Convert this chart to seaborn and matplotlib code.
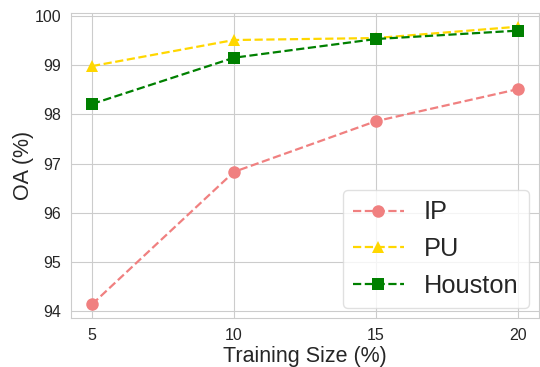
import matplotlib
matplotlib.use('Agg')
import matplotlib.pyplot as plt
import seaborn as sns
import pandas as pd

# data
sizes = [5, 10, 15, 20]
ip_oa = [94.14, 96.83, 97.86, 98.51]
pu_oa = [98.98, 99.51, 99.55, 99.78]
houston_oa = [98.21, 99.15, 99.53, 99.70]

names = ['IP', 'PU', 'Houston']
colors = {'IP': 'lightcoral', 'PU': 'gold', 'Houston': 'green'}
markers = {'IP': 'o', 'PU': '^', 'Houston': 's'}

df = pd.DataFrame({
    'size': sizes * 3,
    'oa': ip_oa + pu_oa + houston_oa,
    'dataset': ['IP'] * 4 + ['PU'] * 4 + ['Houston'] * 4,
})

sns.set_style('whitegrid')
plt.rcParams['font.family'] = ['Liberation Sans', 'DejaVu Sans']

fig, ax = plt.subplots(figsize=(5.4, 3.67), dpi=100)
fig.subplots_adjust(left=0.131, right=0.998, top=0.965, bottom=0.133)

for name in names:
    sub = df[df['dataset'] == name]
    sns.lineplot(data=sub, x='size', y='oa', ax=ax, color=colors[name],
                 marker=markers[name], markersize=9, markeredgewidth=0,
                 linestyle='--', linewidth=1.6, label=name)

ax.set_xticks(sizes)
ax.tick_params(labelsize=11.5, colors='#262626')
ax.set_xlabel('Training Size (%)', fontsize=15.5, color='#262626', labelpad=2)
ax.set_ylabel('OA (%)', fontsize=15.5, color='#262626', labelpad=0)

leg = ax.legend(loc='lower right', fontsize=18.3, frameon=True,
                borderaxespad=0.4)
leg.get_frame().set_edgecolor('0.85')

plt.savefig('out.png', dpi=100)
plt.close()
